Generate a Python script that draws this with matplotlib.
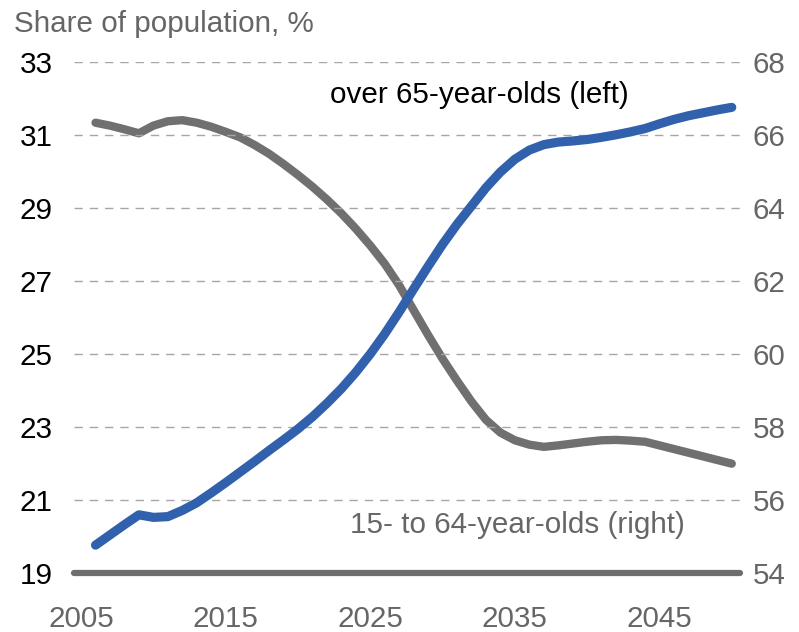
import matplotlib
matplotlib.use("Agg")
import matplotlib.pyplot as plt

# population shares by year
years = list(range(2006, 2051))

# over 65-year-olds, % of population (left axis)
over_65 = [19.77, 20.05, 20.33, 20.6, 20.53, 20.55, 20.72, 20.93, 21.2, 21.48,
           21.77, 22.06, 22.36, 22.65, 22.95, 23.28, 23.65, 24.05, 24.5, 25.0,
           25.55, 26.15, 26.78, 27.4, 28.0, 28.55, 29.05, 29.55, 29.98, 30.33,
           30.58, 30.73, 30.8, 30.83, 30.87, 30.93, 31.0, 31.08, 31.17, 31.3,
           31.42, 31.52, 31.6, 31.68, 31.75]

# 15- to 64-year-olds, % of population (right axis)
working_age = [66.33, 66.25, 66.15, 66.04, 66.25, 66.37, 66.4, 66.33, 66.22, 66.08,
               65.93, 65.72, 65.48, 65.2, 64.9, 64.58, 64.23, 63.85, 63.43, 62.97,
               62.47, 61.88, 61.2, 60.52, 59.87, 59.27, 58.7, 58.2, 57.85, 57.64,
               57.52, 57.46, 57.5, 57.55, 57.6, 57.64, 57.65, 57.63, 57.6, 57.5,
               57.4, 57.3, 57.2, 57.1, 57.0]

left_ticks = [19, 21, 23, 25, 27, 29, 31, 33]
right_ticks = [54, 56, 58, 60, 62, 64, 66, 68]
x_ticks = [2005, 2015, 2025, 2035, 2045]

blue = "#3161AD"
grey = "#717070"
label_grey = "#666666"

plt.rcParams["font.family"] = ["Liberation Sans", "DejaVu Sans"]
fs = 21.3

fig = plt.figure(figsize=(7.99, 6.32), dpi=100)
ax = fig.add_axes([0.0924, 0.0929, 0.8343, 0.8095])
ax2 = ax.twinx()

# dashed gridlines (baseline drawn separately)
for t in left_ticks[1:]:
    ax.axhline(t, color="#A6A6A6", lw=1.0, dashes=(6, 5), zorder=1)
ax.axhline(19, color="#6E6E6E", lw=4.5, solid_capstyle="round", zorder=2, clip_on=False)

ax2.plot(years, working_age, color=grey, lw=6.0, solid_capstyle="round",
         solid_joinstyle="round", zorder=3)
ax.plot(years, over_65, color=blue, lw=6.6, solid_capstyle="round",
        solid_joinstyle="round", zorder=4)

# left axis on top so the blue line sits over the grey one
ax.set_zorder(ax2.get_zorder() + 1)
ax.patch.set_visible(False)

ax.set_xlim(2004.5, 2050.6)
ax.set_ylim(19, 33)
ax2.set_ylim(54, 68)

ax.set_xticks(x_ticks)
ax.set_xticklabels([str(x) for x in x_ticks], fontsize=fs, color=label_grey)
ax.set_yticks(left_ticks)
ax.set_yticklabels([str(t) for t in left_ticks], fontsize=fs, color="black")
ax2.set_yticks(right_ticks)
ax2.set_yticklabels([str(t) for t in right_ticks], fontsize=fs, color=label_grey)

ax.tick_params(axis="y", length=0, pad=15)
ax.tick_params(axis="x", length=0, pad=23)
ax2.tick_params(axis="y", length=0, pad=9)

for a in (ax, ax2):
    for s in a.spines.values():
        s.set_visible(False)

ax.text(2022.2, 32.1, "over 65-year-olds (left)", fontsize=fs, color="black",
        ha="left", va="center")
ax.text(2023.6, 20.32, "15- to 64-year-olds (right)", fontsize=fs, color=label_grey,
        ha="left", va="center")

fig.text(0.018, 0.95, "Share of population, %", fontsize=fs, color=label_grey,
         ha="left", va="baseline")

fig.savefig("out.png", dpi=100)
